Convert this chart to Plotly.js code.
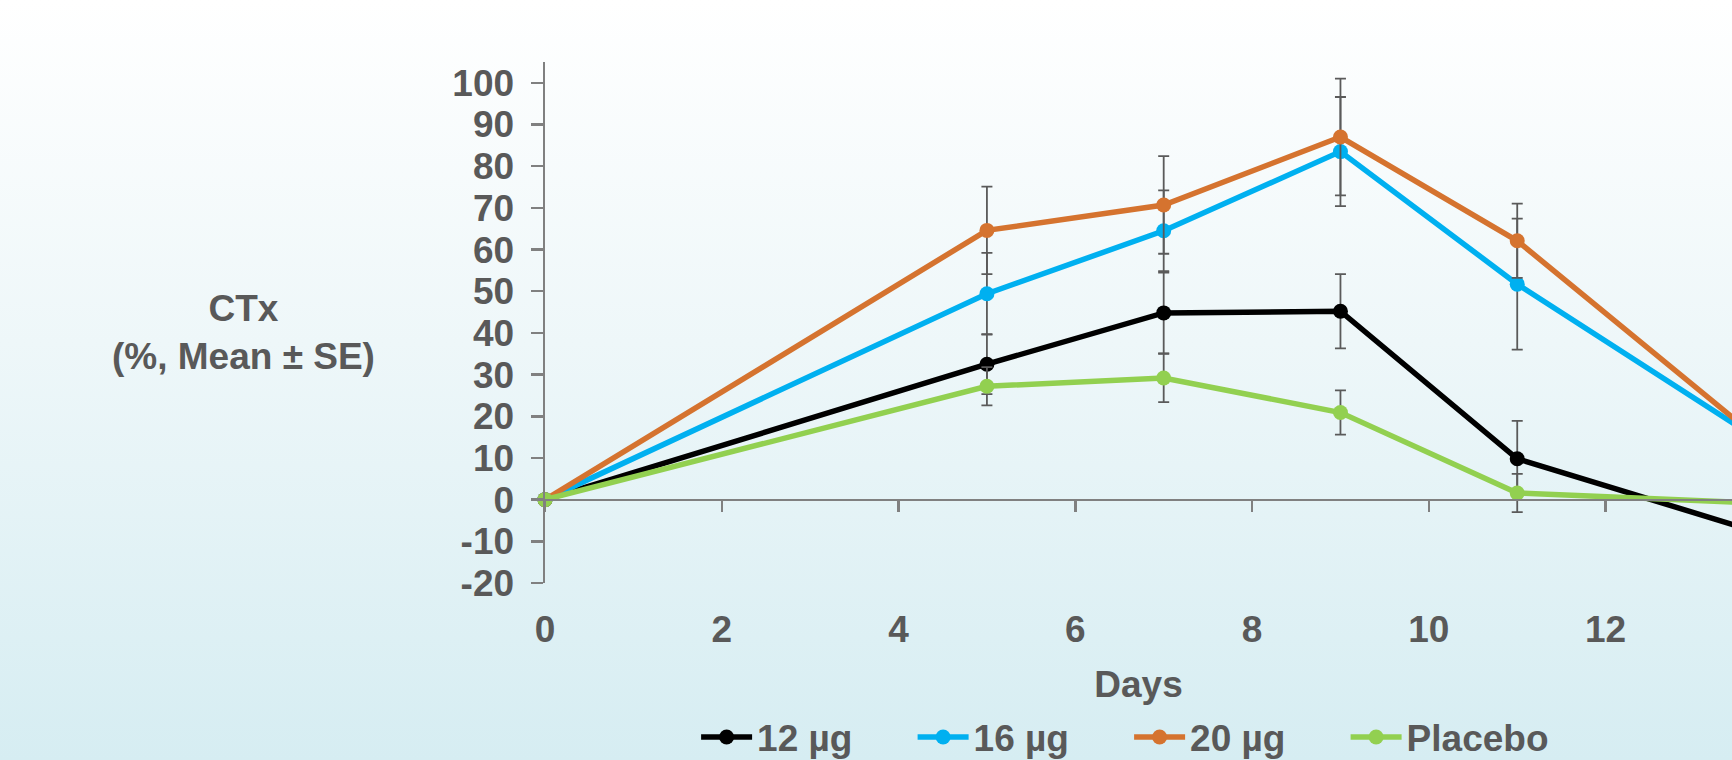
<!DOCTYPE html>
<html>
<head>
<meta charset="utf-8">
<script src="https://cdn.plot.ly/plotly-3.0.1.min.js"></script>
<style>
  html, body { margin: 0; padding: 0; width: 1732px; height: 760px; overflow: hidden;
    background: linear-gradient(to bottom, #ffffff 0%, #eef7f9 45%, #d6edf2 100%); }
  #chart { width: 1732px; height: 760px; }
</style>
</head>
<body>
<div id="chart"></div>
<script>
// Days of measurement
const days = [0, 5, 7, 9, 11, 14];
// Series names
const seriesNames = ["12 µg", "16 µg", "20 µg", "Placebo"];
// CTx change (%, mean) per series
const ctx12 = [0, 32.5, 44.8, 45.2, 9.8, -9.6];
const ctx16 = [0, 49.4, 64.5, 83.5, 51.7, 10.7];
const ctx20 = [0, 64.6, 70.7, 87.0, 62.1, 9.9];
const ctxPlacebo = [0, 27.2, 29.2, 20.9, 1.6, -1.1];
// Standard errors
const se12 = [null, 7.2, 9.7, 8.9, 9.1, null];
const se16 = [null, 9.8, 9.7, 13.1, 15.7, null];
const se20 = [null, 10.5, 11.7, 14.0, 8.9, null];
const sePlacebo = [null, 4.6, 5.8, 5.3, 4.6, null];
// Axis ticks
const xTicks = [0, 2, 4, 6, 8, 10, 12];
const yTicks = [-20, -10, 0, 10, 20, 30, 40, 50, 60, 70, 80, 90, 100];

const colors = ["#000000", "#00B0F0", "#D5732F", "#92D050"];
const values = [ctx12, ctx16, ctx20, ctxPlacebo];
const errors = [se12, se16, se20, sePlacebo];

const fontFam = "Liberation Sans, Arial, sans-serif";
const gray = "#595959";
const fs = 37;

const traces = seriesNames.map((name, i) => ({
  type: "scatter",
  mode: "lines+markers",
  name: name,
  x: days,
  y: values[i],
  cliponaxis: false,
  line: { color: colors[i], width: 5.5 },
  marker: { color: colors[i], size: 15 },
  error_y: { type: "data", array: errors[i], visible: true, color: "#5a5a5a", thickness: 1.8, width: 5.5 }
}));

const layout = {
  width: 1732,
  height: 760,
  margin: { l: 545, r: 0, t: 62, b: 177, autoexpand: false },
  paper_bgcolor: "rgba(0,0,0,0)",
  plot_bgcolor: "rgba(0,0,0,0)",
  showlegend: true,
  font: { family: fontFam, size: fs, color: gray, weight: 700 },
  xaxis: {
    range: [0, 13.43],
    tickvals: xTicks,
    ticktext: xTicks.map(String),
    anchor: "free",
    position: 0.16,
    showline: true,
    linecolor: "#808080",
    linewidth: 2.5,
    ticks: "outside",
    ticklen: 11,
    tickwidth: 2.5,
    tickcolor: "#808080",
    showgrid: false,
    zeroline: false,
    ticklabelstandoff: 85,
    tickfont: { family: fontFam, size: fs, color: gray, weight: 700 },
    title: { text: "Days", font: { family: fontFam, size: fs, color: gray, weight: 700 }, standoff: 22 }
  },
  yaxis: {
    range: [-20, 105],
    tickvals: yTicks,
    ticktext: yTicks.map(String),
    anchor: "x",
    showline: true,
    linecolor: "#808080",
    linewidth: 2.5,
    ticks: "outside",
    ticklen: 12,
    tickwidth: 2.5,
    tickcolor: "#808080",
    showgrid: false,
    zeroline: false,
    ticklabelstandoff: 9,
    tickfont: { family: fontFam, size: fs, color: gray, weight: 700 }
  },
  legend: {
    orientation: "h",
    x: 0.1273,
    xanchor: "left",
    y: -0.2965,
    yanchor: "middle",
    font: { family: fontFam, size: fs, color: gray, weight: 700 },
    bgcolor: "rgba(0,0,0,0)",
    entrywidth: 150.5,
    itemwidth: 51
  },
  annotations: [{
    text: "CTx<br>(%, Mean ± SE)",
    xref: "paper", yref: "paper",
    x: -0.2544, y: 0.48,
    xanchor: "center", yanchor: "middle",
    showarrow: false,
    font: { family: fontFam, size: fs, color: gray, weight: 700 }
  }]
};

Plotly.newPlot("chart", traces, layout, { displayModeBar: false, staticPlot: true });
</script>
</body>
</html>
